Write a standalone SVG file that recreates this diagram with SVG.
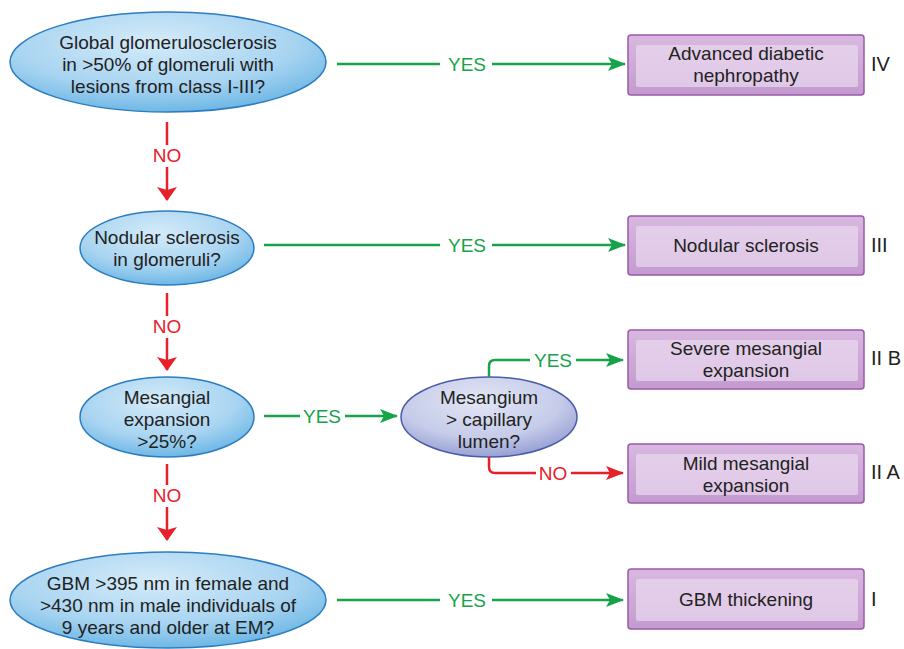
<svg xmlns="http://www.w3.org/2000/svg" width="904" height="649" viewBox="0 0 904 649">
<defs>
<radialGradient id="gBlue" cx="0.45" cy="0.3" r="0.75">
<stop offset="0" stop-color="#d4ebf9"/>
<stop offset="0.6" stop-color="#a8d4f1"/>
<stop offset="1" stop-color="#62b2e3"/>
</radialGradient>
<radialGradient id="gLav" cx="0.45" cy="0.3" r="0.75">
<stop offset="0" stop-color="#e2e6f5"/>
<stop offset="0.6" stop-color="#c6cce9"/>
<stop offset="1" stop-color="#8e98d0"/>
</radialGradient>
<linearGradient id="gBox" x1="0" y1="0" x2="0" y2="1">
<stop offset="0" stop-color="#d8b8e0"/>
<stop offset="1" stop-color="#c49ad0"/>
</linearGradient>
<marker id="ag" markerWidth="18" markerHeight="14" refX="17" refY="7" orient="auto" markerUnits="userSpaceOnUse">
<path d="M0,0 L18,7 L0,14 L4,7 Z" fill="#16a34a"/>
</marker>
<marker id="ar" markerWidth="14" markerHeight="20" refX="13" refY="10" orient="auto" markerUnits="userSpaceOnUse">
<path d="M0,0 L14,10 L0,20 L3,10 Z" fill="#e8202a"/>
</marker>
<marker id="arh" markerWidth="18" markerHeight="14" refX="17" refY="7" orient="auto" markerUnits="userSpaceOnUse">
<path d="M0,0 L18,7 L0,14 L4,7 Z" fill="#e8202a"/>
</marker>
</defs>
<style>
.q{fill:url(#gBlue);stroke:#2c7cc0;stroke-width:1.5}
.ql{fill:url(#gLav);stroke:#4a5ca8;stroke-width:1.5}
.t{font-family:"Liberation Sans",Arial,sans-serif;font-size:19px;fill:#222;text-anchor:middle}
.box{fill:url(#gBox);stroke:#9a5aa8;stroke-width:1.5}
.inner{fill:#eadaf0;opacity:0.7}
.rn{font-family:"Liberation Sans",Arial,sans-serif;font-size:20px;fill:#222}
.g{stroke:#16a34a;stroke-width:2.5;fill:none}
.r{stroke:#e8202a;stroke-width:2.5;fill:none}
.lg{font-family:"Liberation Sans",Arial,sans-serif;font-size:19px;fill:#16a34a;text-anchor:middle}
.lr{font-family:"Liberation Sans",Arial,sans-serif;font-size:19px;fill:#e8202a;text-anchor:middle}
</style>

<g id="q1"><ellipse class="q" cx="168" cy="62" rx="158" ry="50"/>
<text class="t" x="168" y="49">Global glomerulosclerosis</text>
<text class="t" x="168" y="71">in &gt;50% of glomeruli with</text>
<text class="t" x="168" y="93">lesions from class I-III?</text></g>

<g id="q2"><ellipse class="q" cx="167" cy="248" rx="87" ry="37"/>
<text class="t" x="167" y="244">Nodular sclerosis</text>
<text class="t" x="167" y="266">in glomeruli?</text></g>

<g id="q3"><ellipse class="q" cx="167" cy="417" rx="87" ry="40"/>
<text class="t" x="167" y="404">Mesangial</text>
<text class="t" x="167" y="426">expansion</text>
<text class="t" x="167" y="448">&gt;25%?</text></g>

<g id="q4"><ellipse class="ql" cx="489" cy="417" rx="88" ry="40"/>
<text class="t" x="489" y="404">Mesangium</text>
<text class="t" x="489" y="426">&gt; capillary</text>
<text class="t" x="489" y="448">lumen?</text></g>

<g id="q5"><ellipse class="q" cx="168" cy="600" rx="158" ry="48"/>
<text class="t" x="168" y="590">GBM &gt;395 nm in female and</text>
<text class="t" x="168" y="612">&gt;430 nm in male individuals of</text>
<text class="t" x="168" y="634">9 years and older at EM?</text></g>

<g id="b4"><rect class="box" x="628" y="35" width="236" height="60" rx="3"/>
<rect class="inner" x="636" y="45" width="222" height="42" rx="2"/>
<text class="t" x="746" y="60">Advanced diabetic</text>
<text class="t" x="746" y="82">nephropathy</text>
<text class="rn" x="871" y="71">IV</text></g>

<g id="b3"><rect class="box" x="628" y="216" width="236" height="59" rx="3"/>
<rect class="inner" x="636" y="226" width="222" height="41" rx="2"/>
<text class="t" x="746" y="252">Nodular sclerosis</text>
<text class="rn" x="871" y="252">III</text></g>

<g id="b2b"><rect class="box" x="628" y="330" width="236" height="59" rx="3"/>
<rect class="inner" x="636" y="340" width="222" height="41" rx="2"/>
<text class="t" x="746" y="355">Severe mesangial</text>
<text class="t" x="746" y="377">expansion</text>
<text class="rn" x="871" y="365">II B</text></g>

<g id="b2a"><rect class="box" x="628" y="444" width="236" height="59" rx="3"/>
<rect class="inner" x="636" y="454" width="222" height="41" rx="2"/>
<text class="t" x="746" y="470">Mild mesangial</text>
<text class="t" x="746" y="492">expansion</text>
<text class="rn" x="871" y="479">II A</text></g>

<g id="b1"><rect class="box" x="628" y="569" width="236" height="60" rx="3"/>
<rect class="inner" x="636" y="579" width="222" height="42" rx="2"/>
<text class="t" x="746" y="606">GBM thickening</text>
<text class="rn" x="871" y="606">I</text></g>

<g id="connectors">
<line class="g" x1="337" y1="64" x2="440" y2="64"/>
<text class="lg" x="467" y="71">YES</text>
<line class="g" x1="492" y1="64" x2="625" y2="64" marker-end="url(#ag)"/>

<line class="g" x1="264" y1="245" x2="440" y2="245"/>
<text class="lg" x="467" y="252">YES</text>
<line class="g" x1="492" y1="245" x2="625" y2="245" marker-end="url(#ag)"/>

<line class="g" x1="264" y1="416" x2="300" y2="416"/>
<text class="lg" x="322" y="423">YES</text>
<line class="g" x1="345" y1="416" x2="397" y2="416" marker-end="url(#ag)"/>

<path class="g" d="M489,377 V366 Q489,360 495,360 H530"/>
<text class="lg" x="553" y="367">YES</text>
<line class="g" x1="576" y1="360" x2="623" y2="360" marker-end="url(#ag)"/>

<path class="r" d="M489,457 V467 Q489,473 495,473 H536"/>
<text class="lr" x="553" y="480">NO</text>
<line class="r" x1="571" y1="473" x2="623" y2="473" marker-end="url(#arh)"/>

<line class="g" x1="337" y1="600" x2="440" y2="600"/>
<text class="lg" x="467" y="607">YES</text>
<line class="g" x1="492" y1="600" x2="623" y2="600" marker-end="url(#ag)"/>

<line class="r" x1="167" y1="122" x2="167" y2="145"/>
<text class="lr" x="167" y="162">NO</text>
<line class="r" x1="167" y1="167" x2="167" y2="200" marker-end="url(#ar)"/>

<line class="r" x1="167" y1="293" x2="167" y2="316"/>
<text class="lr" x="167" y="333">NO</text>
<line class="r" x1="167" y1="338" x2="167" y2="370" marker-end="url(#ar)"/>

<line class="r" x1="167" y1="464" x2="167" y2="485"/>
<text class="lr" x="167" y="502">NO</text>
<line class="r" x1="167" y1="507" x2="167" y2="540" marker-end="url(#ar)"/>
</g>
</svg>
